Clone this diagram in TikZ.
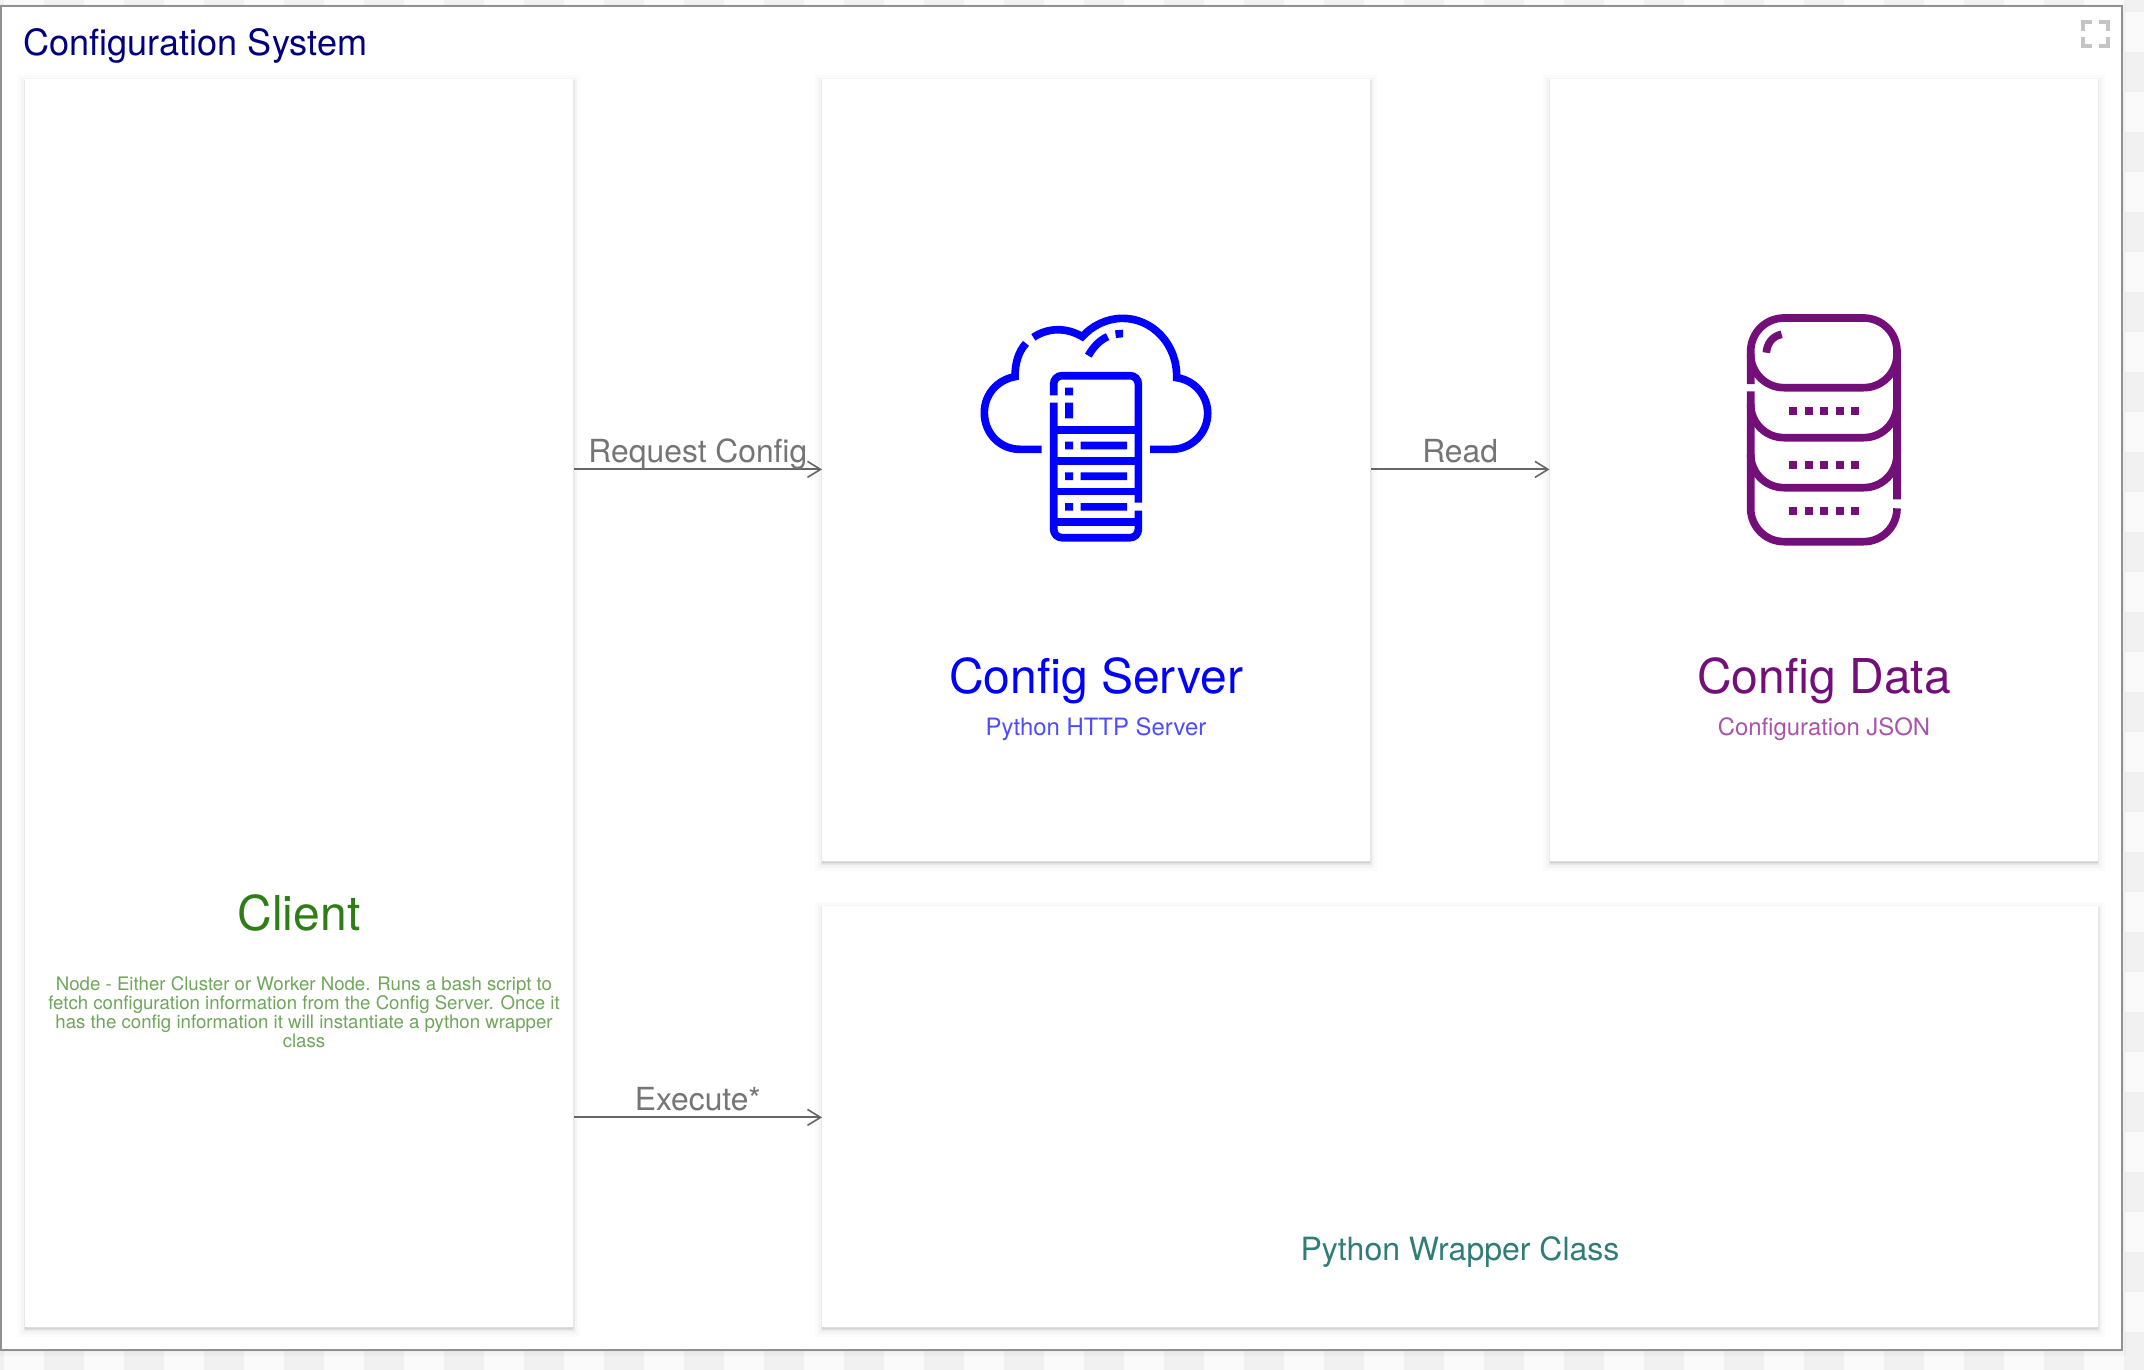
\documentclass[tikz,border=0pt]{standalone}
\usepackage{fontspec}
\setmainfont{TeX Gyre Heros}
\usetikzlibrary{arrows.meta,shadows}
\definecolor{tileA}{HTML}{FAFAFA}
\definecolor{tileB}{HTML}{F1F1F1}
\definecolor{frameC}{HTML}{909090}
\definecolor{navyC}{HTML}{000080}
\definecolor{blueC}{HTML}{0000FF}
\definecolor{blueS}{HTML}{4D4DFF}
\definecolor{purpC}{HTML}{740F7A}
\definecolor{purpS}{HTML}{A854AB}
\definecolor{greenC}{HTML}{2F7D17}
\definecolor{greenS}{HTML}{6FA65A}
\definecolor{tealC}{HTML}{2E7D77}
\definecolor{labelC}{HTML}{757575}
\definecolor{lineC}{HTML}{666666}
\definecolor{iconC}{HTML}{C4C4C4}
\tikzset{
  cardbox/.style={draw=none,fill=white,inner sep=0pt,anchor=north west,
    general shadow={shadow xshift=0pt,shadow yshift=-1.5pt,fill=black,draw=black,opacity=.015,line width=7pt},
    general shadow={shadow xshift=0pt,shadow yshift=-1.5pt,fill=black,draw=black,opacity=.025,line width=4pt},
    general shadow={shadow xshift=0pt,shadow yshift=-1pt,fill=black,draw=black,opacity=.05,line width=1.2pt}},
  flow/.style={draw=lineC,line width=1pt,-{Straight Barb[length=6.5pt,width=8pt,line width=.8pt]}},
  flowlabel/.style={midway,anchor=base,yshift=3.5pt,text=labelC,font=\fontsize{15.9}{18}\selectfont,inner sep=0pt},
  bigtitle/.style={anchor=base,inner sep=0pt,font=\fontsize{24}{29}\selectfont},
  subtitle/.style={anchor=base,inner sep=0pt,font=\fontsize{11.95}{14}\selectfont},
  srvstroke/.style={draw=blueC,line width=3.83pt,line join=miter},
  dbstroke/.style={draw=purpC,line width=3.83pt,line join=round},
  cornermark/.style={draw=iconC,line width=2.4pt},
  panelframe/.style={fill=white,draw=frameC,line width=1.25pt,
    general shadow={shadow xshift=0pt,shadow yshift=-1pt,fill=black,draw=black,opacity=.025,line width=4pt}}
}
\begin{document}
\begin{tikzpicture}[x=0.5pt,y=-0.5pt]
\useasboundingbox (0,0) rectangle (2144,1370);
% checker background
\fill[tileA] (0,0) rectangle (2144,1370);
\foreach \i in {-1,...,53}{\foreach \j in {-1,...,33}{
  \pgfmathtruncatemacro{\k}{mod(abs(\i+\j),2)}
  \ifnum\k=0
    \fill[tileB] ({max(0,4+40*\i)},{max(0,12+40*\j)}) rectangle ({min(2144,44+40*\i)},{min(1370,52+40*\j)});
  \fi
}}
% frame
\path[panelframe] (1,6) rectangle (2122,1350);
\node[anchor=base west,inner sep=0pt,text=navyC,font=\fontsize{18.05}{22}\selectfont] (title) at (23,56) {Configuration System};
% expand mark
\draw[cornermark] (2083,31) -- (2083,22) -- (2092,22);
\draw[cornermark] (2099,22) -- (2108,22) -- (2108,31);
\draw[cornermark] (2083,37) -- (2083,46) -- (2092,46);
\draw[cornermark] (2099,46) -- (2108,46) -- (2108,37);
% cards
\node[cardbox,minimum width=274pt,minimum height=624pt] (client) at (25,79) {};
\node[cardbox,minimum width=274pt,minimum height=391pt] (server) at (822,79) {};
\node[cardbox,minimum width=274pt,minimum height=391pt] (data) at (1549.5,79) {};
\node[cardbox,minimum width=638pt,minimum height=210.5pt] (wrapper) at (822,906) {};
% connectors
\draw[flow] ([yshift=.5pt]client.east |- server.west) -- node[flowlabel] (reqlabel) {Request Config} ([yshift=.5pt]server.west);
\draw[flow] ([yshift=.5pt]server.east) -- node[flowlabel] (readlabel) {Read} ([yshift=.5pt]data.west);
\draw[flow] ([yshift=-.25pt]client.east |- wrapper.west) -- node[flowlabel] (execlabel) {Execute*} ([yshift=-.25pt]wrapper.west);
% texts
\node[bigtitle,text=blueC] (servername) at (1096,693) {Config Server};
\node[subtitle,text=blueS] (serversub) at (1096,735) {Python HTTP Server};
\node[bigtitle,text=purpC] (dataname) at (1824,693) {Config Data};
\node[subtitle,text=purpS] (datasub) at (1824,735) {Configuration JSON};
\node[bigtitle,text=greenC] (clientname) at (299,930) {Client};
\node[anchor=base,inner sep=0pt,text=tealC,font=\fontsize{16}{19}\selectfont] (wrappername) at (1460,1260) {Python Wrapper Class};
\node[anchor=north,inner sep=0pt,align=center,text=greenS,font=\fontsize{9.32}{9.5}\selectfont] (clientsub) at (304,976) {Node - Either Cluster or Worker Node. Runs a bash script to\\fetch configuration information from the Config Server. Once it\\has the config information it will instantiate a python wrapper\\class};
% server icon
\begin{scope}[shift={(950,290)},x=0.16667pt,y=-0.16667pt]
\draw[srvstroke] (600,478) -- (665,478) arc[start angle=90,end angle=-82,radius=108]
  .. controls (682,160) and (605,85) .. (518,85) .. controls (470,85) and (425,108) .. (397,140)
  .. controls (350,112) and (295,112) .. (250,142);
\draw[srvstroke] (228,160) .. controls (205,185) and (195,220) .. (195,260)
  .. controls (140,270) and (103,315) .. (103,368) .. controls (103,430) and (150,478) .. (210,478) -- (275,478);
\draw[srvstroke] (415,197) .. controls (430,170) and (450,150) .. (473,140);
\fill[blueC] (495,121) -- (519,119) -- (519,142) -- (498,144) -- cycle;
\draw[srvstroke] (311,316) -- (311,282) arc[start angle=180,end angle=270,radius=25] -- (540,257)
  arc[start angle=270,end angle=360,radius=25] -- (565,638);
\draw[srvstroke] (565,662) -- (565,718) arc[start angle=0,end angle=90,radius=25] -- (336,743)
  arc[start angle=90,end angle=180,radius=25] -- (311,338);
\foreach \yy in {420,512,604,696}{\draw[srvstroke] (311,\yy) -- (565,\yy);}
\fill[blueC] (345,293) rectangle (369,316) (345,338) rectangle (369,385);
\foreach \yy in {455,547,639}{\fill[blueC] (345,\yy) rectangle (369,\yy+23) (392,\yy) rectangle (531,\yy+23);}
\end{scope}
% data icon
\begin{scope}[shift={(1720,290)},x=0.16667pt,y=-0.16667pt]
\draw[dbstroke] (92,282) -- (92,184) arc[start angle=180,end angle=270,radius=100] -- (431,84)
  arc[start angle=270,end angle=360,radius=100] -- (531,628);
\draw[dbstroke] (92,304) -- (92,655) arc[start angle=180,end angle=90,radius=100] -- (431,755)
  arc[start angle=90,end angle=0,radius=100];
\foreach \yy in {193,343,493}{
  \draw[dbstroke] (92,\yy) arc[start angle=180,end angle=90,radius=100] -- (431,\yy+100)
    arc[start angle=90,end angle=0,radius=100];
}
\draw[dbstroke] (139,188) .. controls (141,160) and (158,138) .. (185,133);
\foreach \xx in {207,254,300,347,393}{\foreach \yy in {350,512,651}{
  \fill[purpC] (\xx,\yy) rectangle (\xx+24,\yy+24);
}}
\end{scope}
\end{tikzpicture}
\end{document}
